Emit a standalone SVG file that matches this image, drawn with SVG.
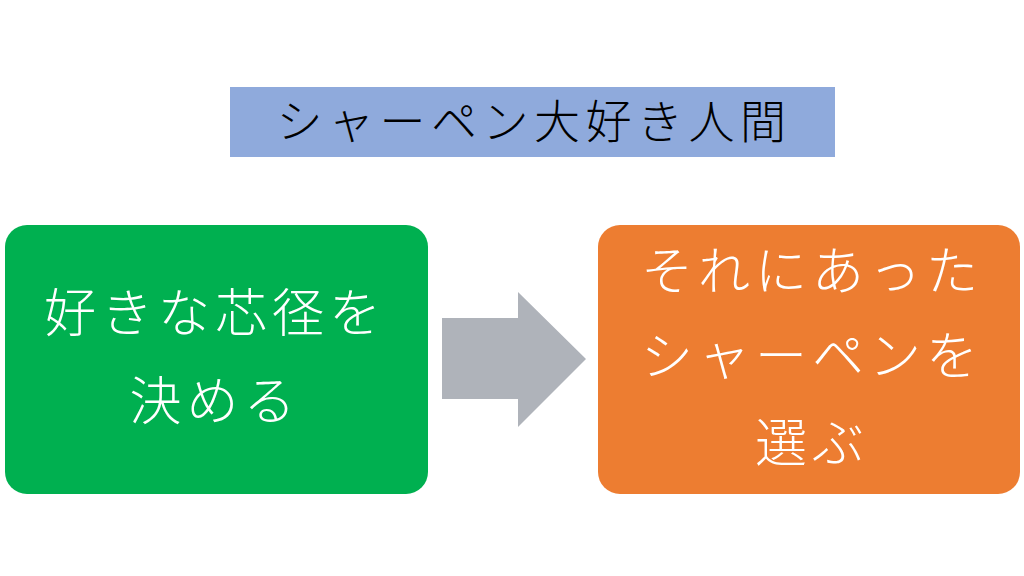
<svg xmlns="http://www.w3.org/2000/svg" width="1024" height="576" viewBox="0 0 1024 576">
<style>
text{font-family:"Noto Sans CJK JP","Noto Sans CJK SC",sans-serif;font-weight:300;text-anchor:middle}
.t{font-size:46px;fill:#000;letter-spacing:5.5px}
.w{font-size:52px;fill:#fff;letter-spacing:5px}
</style>
<rect width="1024" height="576" fill="#fff"/>
<g id="title">
<rect x="230" y="87" width="605" height="70" fill="#8FAADC"/>
<text class="t" x="534" y="138">シャーペン大好き人間</text>
</g>
<g id="connectors">
<polygon points="442,318 518,318 518,292 586,359 518,427 518,399 442,399" fill="#AFB3BA"/>
</g>
<g id="left">
<rect x="5" y="225" width="423" height="269" rx="22" fill="#00B050"/>
<text class="w" x="215" y="332">好きな芯径を</text>
<text class="w" x="215" y="420">決める</text>
</g>
<g id="right">
<rect x="598" y="225" width="422" height="269" rx="22" fill="#ED7D31"/>
<text class="w" x="812" y="290">それにあった</text>
<text class="w" x="812" y="375">シャーペンを</text>
<text class="w" x="812" y="462">選ぶ</text>
</g>
</svg>
